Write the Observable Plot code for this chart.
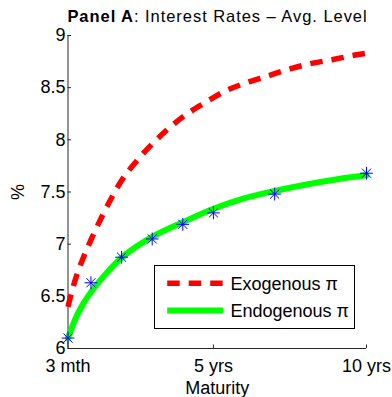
<!DOCTYPE html>
<html>
<head>
<meta charset="utf-8">
<script src="https://cdn.jsdelivr.net/npm/d3@7"></script>
<script src="https://cdn.jsdelivr.net/npm/@observablehq/plot@0.6"></script>
<style>
  html, body { margin: 0; padding: 0; background: #fff; }
  #wrap { position: relative; width: 392px; height: 397px; overflow: hidden; font-family: "Liberation Sans", Arial, sans-serif; }
  #title { position: absolute; left: 17.5px; width: 400px; top: 7.5px; font-size: 16.5px; line-height: 16px; text-align: center; white-space: nowrap; letter-spacing: 0.95px; color: #000; }
</style>
</head>
<body>
<div id="wrap">
  <div id="title"><b>Panel A</b>: Interest Rates – Avg. Level</div>
</div>
<script>
// Maturity in months
const xTicks = [3, 60, 120];
const xTickLabels = ["3 mth", "5 yrs", "10 yrs"];
const yTicks = [6, 6.5, 7, 7.5, 8, 8.5, 9];

// Exogenous pi (red dashed)
const exoMonths = [3, 4, 6, 9, 12, 16, 20, 24, 30, 36, 42, 48, 57, 64, 72, 81, 90, 98, 107, 115, 120];
const exoRates  = [6.40, 6.50, 6.67, 6.87, 7.04, 7.25, 7.44, 7.61, 7.80, 7.96, 8.10, 8.22, 8.36, 8.46, 8.54, 8.61, 8.68, 8.73, 8.77, 8.81, 8.83];

// Endogenous pi (green solid)
const endoMonths = [3, 6, 9, 12, 18, 24, 30, 36, 48, 60, 72, 84, 96, 108, 120];
const endoRates  = [6.10, 6.29, 6.43, 6.54, 6.72, 6.87, 6.98, 7.07, 7.21, 7.34, 7.44, 7.51, 7.57, 7.62, 7.66];

// Observed (blue asterisks)
const obsMonths = [3, 12, 24, 36, 48, 60, 84, 120];
const obsRates  = [6.10, 6.63, 6.875, 7.05, 7.19, 7.30, 7.48, 7.68];

const exo = exoMonths.map((m, i) => ({m, r: exoRates[i]}));
const endo = endoMonths.map((m, i) => ({m, r: endoRates[i]}));
const obs = obsMonths.map((m, i) => ({m, r: obsRates[i]}));

const axisColor = "#262626";

const chart = Plot.plot({
  width: 392,
  height: 397,
  marginLeft: 67.5,
  marginRight: 26,
  marginTop: 35,
  marginBottom: 49,
  x: {domain: [3, 120]},
  y: {domain: [6, 9]},
  style: {fontFamily: "'Liberation Sans', Arial, sans-serif", fontSize: "18px", color: "#000", background: "transparent"},
  marks: [
    Plot.ruleX([3], {stroke: axisColor, strokeWidth: 1}),
    Plot.ruleY([6], {stroke: axisColor, strokeWidth: 1}),
    Plot.axisY({
      ticks: yTicks, tickFormat: d => String(d), tickSize: -3.5, tickPadding: 6,
      stroke: axisColor, fill: "#000", fontSize: 18,
      label: "%", labelAnchor: "center", labelArrow: "none", labelOffset: 57
    }),
    Plot.axisX({
      ticks: xTicks, tickFormat: d => xTickLabels[xTicks.indexOf(d)], tickSize: -3.5, tickPadding: 14,
      stroke: axisColor, fill: "#000", fontSize: 18,
      label: "Maturity", labelAnchor: "center", labelArrow: "none", labelOffset: 45
    }),
    Plot.line(exo, {x: "m", y: "r", stroke: "#ff0000", strokeWidth: 5.5, strokeDasharray: "12.5,9", curve: "monotone-x", strokeLinecap: "butt"}),
    Plot.line(endo, {x: "m", y: "r", stroke: "#00ff00", strokeWidth: 6, curve: "monotone-x"}),
    Plot.dot(obs, {x: "m", y: "r", symbol: "plus", stroke: "#0000ff", strokeWidth: 1, r: 4.2}),
    Plot.dot(obs, {x: "m", y: "r", symbol: "times", stroke: "#0000ff", strokeWidth: 1, r: 4.2})
  ]
});
chart.style.position = "absolute";
chart.style.left = "0";
chart.style.top = "0";
const wrap = document.getElementById("wrap");
wrap.insertBefore(chart, wrap.firstChild);

// Legend
const legendItems = ["Exogenous π", "Endogenous π"];
const legendColors = ["#ff0000", "#00ff00"];
const legendDash = ["12.5,9", null];
const ns = "http://www.w3.org/2000/svg";
const lg = document.createElementNS(ns, "svg");
lg.setAttribute("width", 201);
lg.setAttribute("height", 64);
lg.style.position = "absolute";
lg.style.left = "153.5px";
lg.style.top = "264.5px";
const box = document.createElementNS(ns, "rect");
box.setAttribute("x", 0.5); box.setAttribute("y", 0.5);
box.setAttribute("width", 200); box.setAttribute("height", 63);
box.setAttribute("fill", "#fff"); box.setAttribute("stroke", "#000"); box.setAttribute("stroke-width", 1);
lg.appendChild(box);
legendItems.forEach((t, i) => {
  const y = 18.2 + i * 27.3;
  const ln = document.createElementNS(ns, "line");
  ln.setAttribute("x1", 13.2); ln.setAttribute("x2", 69.2);
  ln.setAttribute("y1", y); ln.setAttribute("y2", y);
  ln.setAttribute("stroke", legendColors[i]);
  ln.setAttribute("stroke-width", i === 0 ? 5.5 : 6);
  if (legendDash[i]) ln.setAttribute("stroke-dasharray", legendDash[i]);
  lg.appendChild(ln);
  const tx = document.createElementNS(ns, "text");
  tx.setAttribute("x", 76.5); tx.setAttribute("y", y + 6.6);
  tx.setAttribute("font-size", 18);
  tx.setAttribute("font-family", "'Liberation Sans', Arial, sans-serif");
  tx.textContent = t;
  lg.appendChild(tx);
});
wrap.appendChild(lg);
</script>
</body>
</html>
